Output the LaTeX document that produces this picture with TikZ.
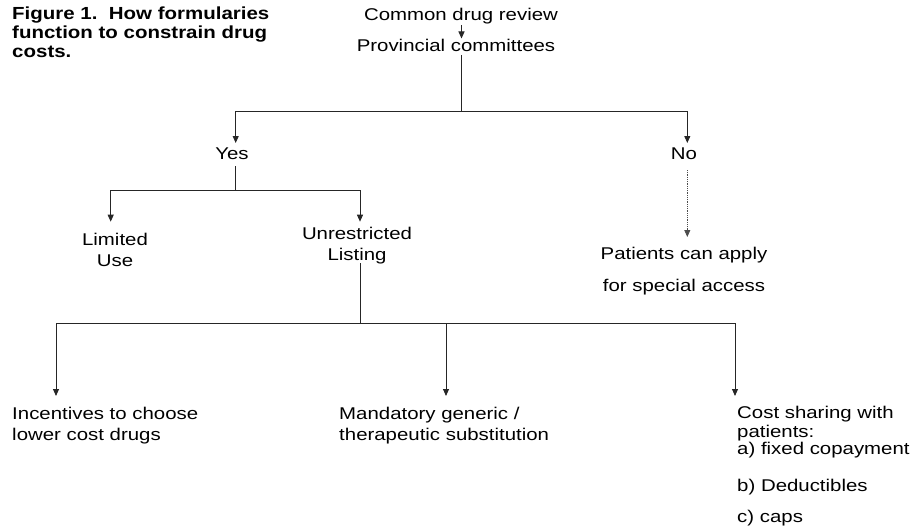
\documentclass[tikz,border=0pt]{standalone}
\usepackage{fontspec}
\setmainfont{Liberation Sans}
\usetikzlibrary{arrows.meta}
\begin{document}
\begin{tikzpicture}[x=1pt,y=-1pt,
  lbl/.style={font=\fontsize{17}{21}\selectfont, inner sep=0pt, xscale=1.2, anchor=base, align=center},
  lblw/.style={lbl, anchor=base west, align=left},
  ttl/.style={font=\fontsize{17.5}{19}\selectfont\bfseries, inner sep=0pt, xscale=1.17, anchor=base west, align=left},
  conn/.style={line width=0.9pt, black!85},
  arr/.style={conn, -{Triangle[length=7pt,width=6pt]}},
  dotarr/.style={line width=0.8pt, black!70, densely dotted, -{Triangle[length=7pt,width=6pt]}},
]
\useasboundingbox (0,0) rectangle (914,527);

% texts (anchor base = baseline of last line)
\node[ttl] (title) at (12,58) {Figure 1.\ \ How formularies\\function to constrain drug\\costs.};
\node[lbl] (cdr) at (461,21) {Common drug review};
\node[lbl] (prov) at (456,52) {Provincial committees};
\node[lbl] (yes) at (232,159) {Yes};
\node[lbl] (no) at (684,159) {No};
\node[lbl] (lim) at (115,266) {Limited\\Use};
\node[lbl] (unr) at (357,260) {Unrestricted\\Listing};
\node[lbl] (pat) at (684,291) {Patients can apply\\[11pt]for special access};
\node[lblw] (inc) at (12,440) {Incentives to choose\\lower cost drugs};
\node[lblw] (man) at (339,440) {Mandatory generic /\\therapeutic substitution};
\node[lblw] (cost) at (737,522) {Cost sharing with\\[-2pt]patients:\\[-4pt]a) fixed copayment\\[16pt]b) Deductibles\\[10pt]c) caps};

% connector points
\coordinate (c0) at (461.5,25);
\coordinate (c1) at (461.5,38.5);
\coordinate (p0) at (461.5,55);
\coordinate (b1) at (461.5,111);
\coordinate (yt) at (235.7,143);
\coordinate (nt) at (687.3,143);
\coordinate (y0) at (235.7,166);
\coordinate (b2) at (235.7,190.7);
\coordinate (lt) at (110.7,221.7);
\coordinate (ut) at (360,221.7);
\coordinate (n0) at (687.3,170);
\coordinate (pt) at (687.3,237);
\coordinate (l0) at (360,263);
\coordinate (b3) at (360,323.3);
\coordinate (it) at (56,396);
\coordinate (mt) at (446,396);
\coordinate (ct) at (735,396);

% connectors
\draw[arr] (c0) -- (c1);
\draw[conn] (p0) -- (b1);
\draw[arr] (b1) -| (yt);
\draw[arr] (b1) -| (nt);
\draw[conn] (y0) -- (b2);
\draw[arr] (b2) -| (lt);
\draw[arr] (b2) -| (ut);
\draw[dotarr] (n0) -- (pt);
\draw[conn] (l0) -- (b3);
\draw[arr] (b3) -| (it);
\draw[arr] (b3) -| (mt);
\draw[arr] (b3) -| (ct);
\end{tikzpicture}
\end{document}
